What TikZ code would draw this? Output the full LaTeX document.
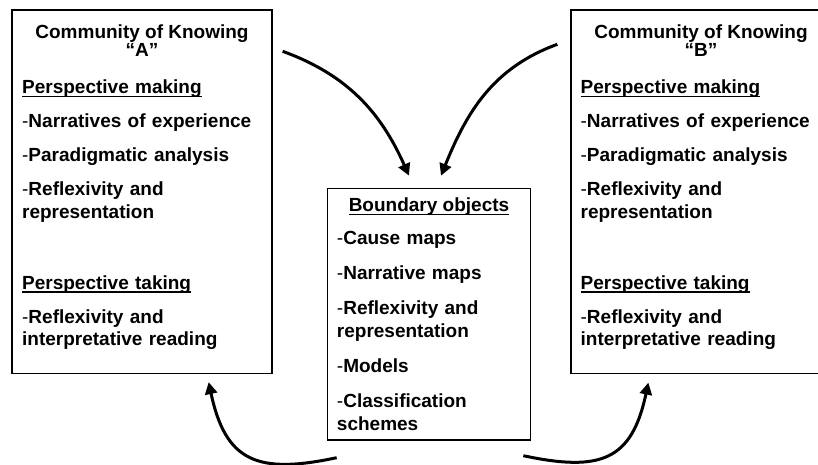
\documentclass[tikz,border=0pt]{standalone}
\usepackage{fontspec}
\setmainfont{Liberation Sans}
\usetikzlibrary{arrows.meta, positioning}

\newcommand{\headline}[1]{\leavevmode\setbox0=\hbox{#1}\rlap{\rule[-3.3pt]{\wd0}{1.3pt}}\box0}
\newcommand{\bitem}{{\mdseries -}}

\begin{document}
\begin{tikzpicture}[
        x = 1pt, y = 1pt, % one unit per pixel
        > = {Triangle[length=12pt, width=12pt]}, % arrow head style
        font = \fontsize{19}{22.7}\selectfont\bfseries,
        semithick % line style
    ]

    \tikzstyle{box}=[
        draw = black,
        line width = 1.3pt,
        fill = white,
        rectangle
    ]
    \tikzstyle{title}=[inner sep = 0pt, anchor = base]
    \tikzstyle{list}=[align = left, inner sep = 0pt]
    \tikzstyle{flow}=[->, line width = 3pt]

    \useasboundingbox (0,0) rectangle (818,-465);

    \node[box, minimum width = 260pt, minimum height = 363.5pt] (commA) at (142,-191.7) {};
    \node[box, minimum width = 260pt, minimum height = 363.5pt] (commB) at (701,-191.7) {};
    \node[box, minimum width = 203.4pt, minimum height = 251.7pt] (bobj) at (429,-314.2) {};

    % community A
    \node[title] (titleA) at ([yshift=-29.3pt]commA.north) {Community of Knowing};
    \node[title] (tagA) at ([yshift=-17.7pt]titleA.base) {“A”};
    \node[list, text width = 245pt, below right = 70.5pt and 10.5pt of commA.north west] (listA) {%
        \headline{Perspective making}\\[11.3pt]
        \bitem Narratives of experience\\[11.3pt]
        \bitem Paradigmatic analysis\\[11.3pt]
        \bitem Reflexivity and\\
        representation\\[48pt]
        \headline{Perspective taking}\\[11.3pt]
        \bitem Reflexivity and\\
        interpretative reading};

    % community B
    \node[title] (titleB) at ([yshift=-29.3pt]commB.north) {Community of Knowing};
    \node[title] (tagB) at ([yshift=-17.7pt]titleB.base) {“B”};
    \node[list, text width = 245pt, below right = 70.5pt and 10pt of commB.north west] (listB) {%
        \headline{Perspective making}\\[11.3pt]
        \bitem Narratives of experience\\[11.3pt]
        \bitem Paradigmatic analysis\\[11.3pt]
        \bitem Reflexivity and\\
        representation\\[48pt]
        \headline{Perspective taking}\\[11.3pt]
        \bitem Reflexivity and\\
        interpretative reading};

    % boundary objects
    \node[title] (titleO) at ([yshift=-24pt]bobj.north) {\headline{Boundary objects}};
    \node[list, text width = 185pt, below right = 42.9pt and 10pt of bobj.north west] (listO) {%
        \bitem Cause maps\\[12.5pt]
        \bitem Narrative maps\\[12.5pt]
        \bitem Reflexivity and\\
        representation\\[12.5pt]
        \bitem Models\\[12.5pt]
        \bitem Classification\\
        schemes};

    \draw[flow] ([shift={(10,-42)}]commA.north east) to[out=-20, in=114] ([shift={(-20,12)}]bobj.north);
    \draw[flow] ([shift={(-13,-35)}]commB.north west) to[out=200, in=68] ([shift={(12,12)}]bobj.north);
    \draw[flow] ([shift={(10,-17)}]bobj.south west) to[out=192, in=-78, looseness=1.4] ([shift={(-64,-8)}]commA.south east);
    \draw[flow] ([shift={(-8,-15)}]bobj.south east) to[out=-12, in=-102, looseness=1.4] ([shift={(78,-8.5)}]commB.south west);
\end{tikzpicture}
\end{document}
